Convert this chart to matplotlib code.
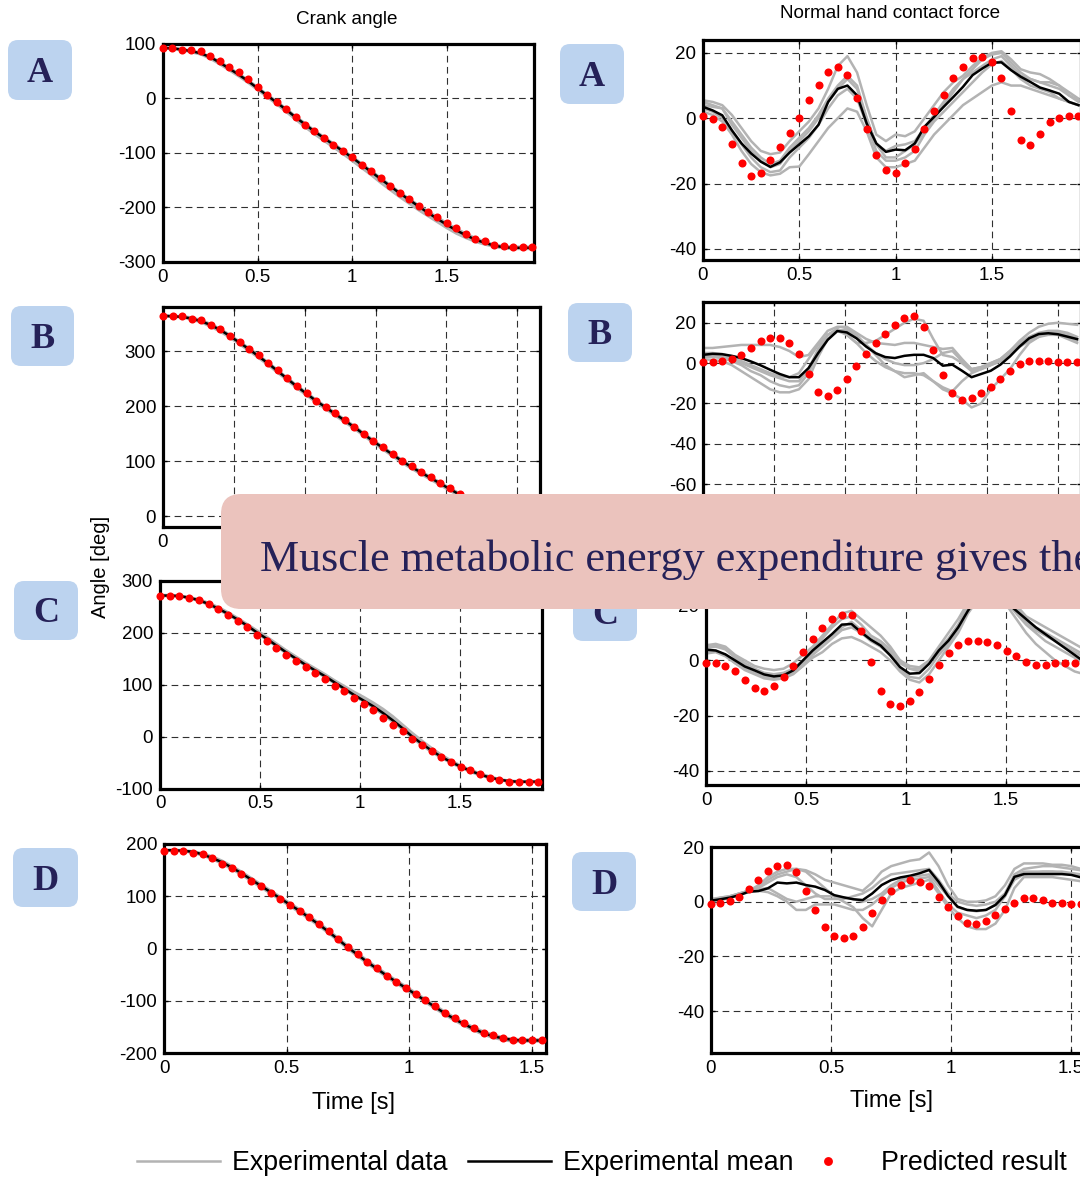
import numpy as np
import matplotlib
matplotlib.use("Agg")
import matplotlib.pyplot as plt
from matplotlib.patches import FancyBboxPatch
from matplotlib.ticker import FuncFormatter

W, H = 1080, 1178
plt.rcParams['font.family'] = ['Liberation Sans', 'DejaVu Sans']

# ---------------------------------------------------------------- sample times [s]
t_a = np.arange(40) * 0.05
t_b = np.arange(40) * 0.0675
t_c = np.arange(40) * 0.0485
t_d = np.arange(40) * 0.0395

# ---------------------------------------------------------------- crank angle [deg]
crank_a_pred = [91, 91, 88, 88, 86, 77, 68, 57, 48, 35, 20, 6, -8, -19, -34, -49, -61, -73, -85, -97,
                -108, -122, -134, -147, -160, -173, -185, -197, -209, -218, -228, -238, -248, -257, -262, -268, -271, -273, -273, -273]
crank_a_mean = [92, 91, 89, 86, 82, 75, 65, 54, 43, 31, 18, 5, -8, -21, -35, -48, -61, -73, -85, -97,
                -109, -122, -135, -148, -161, -174, -186, -198, -210, -221, -232, -242, -251, -259, -265, -270, -273, -274, -274, -274]
crank_a_trials = [
    [93, 92, 90, 87, 83, 76, 67, 56, 45, 33, 20, 7, -6, -19, -33, -46, -59, -71, -83, -95,
     -107, -120, -133, -146, -159, -172, -184, -196, -207, -218, -229, -239, -248, -256, -263, -268, -271, -272, -272, -272],
    [91, 90, 88, 84, 80, 72, 62, 51, 40, 28, 15, 2, -11, -25, -39, -53, -66, -78, -90, -102,
     -115, -128, -141, -155, -168, -181, -193, -205, -216, -227, -238, -248, -256, -263, -268, -272, -275, -276, -276, -276],
    [92, 91, 89, 85, 81, 74, 64, 53, 42, 30, 17, 4, -9, -23, -37, -50, -63, -75, -87, -99,
     -111, -124, -137, -150, -163, -176, -189, -201, -213, -224, -235, -245, -254, -261, -266, -271, -274, -275, -275, -275],
]

crank_b_pred = [364, 364, 364, 360, 357, 349, 340, 329, 317, 305, 293, 279, 266, 251, 237, 225, 210, 199, 187, 175,
                163, 149, 136, 125, 113, 101, 91, 80, 71, 60, 51, 40, 30, 21, 13, 7, 3, 1, 0, 0]
crank_b_mean = [365, 364, 363, 360, 355, 348, 339, 328, 316, 304, 291, 278, 264, 250, 236, 223, 210, 198, 186, 174,
                162, 149, 136, 124, 112, 100, 89, 79, 69, 59, 49, 39, 29, 20, 12, 6, 2, 0, -1, -1]
crank_b_trials = [
    [366, 365, 364, 362, 357, 350, 341, 330, 318, 306, 293, 280, 266, 252, 238, 225, 212, 200, 188, 176,
     164, 151, 138, 126, 114, 102, 91, 81, 71, 61, 51, 41, 31, 22, 14, 8, 4, 2, 1, 1],
    [364, 363, 362, 358, 353, 345, 336, 325, 313, 301, 288, 275, 261, 247, 233, 220, 207, 195, 183, 171,
     159, 146, 133, 121, 109, 97, 86, 76, 66, 56, 46, 36, 27, 18, 10, 4, 0, -2, -3, -3],
    [365, 364, 363, 360, 356, 349, 340, 329, 317, 305, 292, 279, 265, 251, 237, 224, 211, 199, 187, 175,
     163, 150, 137, 125, 113, 101, 90, 80, 70, 60, 50, 40, 30, 21, 13, 7, 3, 1, 0, 0],
]

crank_c_pred = [270.5, 270.5, 270.5, 267, 263, 255, 246, 234, 222, 211, 196, 183, 170, 157, 145, 134, 122, 111, 98, 87,
                74, 62, 51, 36, 22, 10, -5, -17, -28, -40, -49, -58, -64, -72, -79, -84, -87, -87, -87, -87]
crank_c_mean = [271, 271, 270, 267, 262, 255, 246, 236, 225, 213, 200, 188, 175, 162, 150, 138, 127, 116, 104, 92,
                80, 69, 58, 45, 31, 16, 0, -14, -27, -39, -49, -58, -66, -73, -79, -83, -86, -87, -87, -87]
crank_c_trials = [
    [272, 272, 271, 268, 264, 257, 249, 239, 228, 216, 204, 192, 179, 166, 154, 142, 131, 120, 108, 97,
     86, 76, 65, 53, 39, 23, 7, -8, -22, -35, -46, -56, -64, -71, -77, -82, -85, -86, -86, -86],
    [270, 270, 269, 266, 261, 253, 244, 234, 223, 211, 198, 186, 173, 160, 148, 136, 125, 114, 102, 90,
     78, 67, 55, 42, 28, 13, -3, -17, -30, -41, -51, -60, -68, -75, -80, -84, -87, -88, -88, -88],
    [271, 271, 270, 267, 263, 256, 247, 237, 226, 214, 202, 190, 177, 164, 152, 140, 129, 118, 106, 95,
     83, 72, 61, 49, 35, 20, 4, -11, -25, -37, -48, -57, -65, -72, -78, -83, -86, -87, -87, -87],
]

crank_d_pred = [186.6, 187, 187, 183, 180, 174, 162, 154, 142, 130, 119, 107, 95, 84, 71, 60, 46, 34, 18, 3,
                -10, -25, -38, -52, -64, -76, -88, -99, -111, -123, -133, -143, -152, -161, -166, -172, -175, -175, -175, -175]
crank_d_mean = [188, 188, 187, 185, 180, 173, 165, 155, 144, 132, 120, 108, 96, 84, 72, 59, 46, 32, 17, 2,
                -12, -26, -39, -52, -64, -76, -88, -100, -112, -124, -135, -145, -154, -162, -168, -172, -175, -176, -176, -176]
crank_d_trials = [
    [189, 189, 188, 186, 182, 176, 168, 158, 147, 135, 123, 111, 99, 87, 75, 62, 49, 35, 20, 5,
     -9, -23, -36, -49, -61, -73, -85, -97, -109, -121, -132, -142, -151, -159, -165, -170, -173, -174, -174, -174],
    [187, 187, 186, 183, 178, 171, 162, 152, 141, 129, 117, 105, 93, 81, 69, 56, 43, 29, 14, -1,
     -15, -29, -42, -55, -67, -79, -91, -103, -115, -127, -138, -148, -157, -165, -171, -175, -178, -178, -178, -178],
    [188, 188, 187, 185, 181, 174, 166, 156, 145, 133, 121, 109, 97, 85, 73, 60, 47, 33, 18, 3,
     -11, -25, -38, -51, -63, -75, -87, -99, -111, -123, -134, -144, -153, -161, -167, -171, -174, -175, -175, -175],
]

# ---------------------------------------------------------------- normal hand contact force
force_a_pred = [0.7, -0.3, -2.8, -7.8, -13.8, -17.8, -16.9, -12.8, -8.9, -4.4, 0.1, 5.7, 10.2, 14.1, 15.7, 13.1, 6.1, -3.3, -11.4, -15.9,
                -16.9, -13.8, -9.3, -3.4, 2.2, 7.1, 12.2, 15.7, 18.4, 18.8, 17.3, 12.2, 2.2, -6.8, -8.3, -4.8, -1.3, 0.2, 0.7, 0.7]
force_a_mean = [3.5, 2.4, 0.9, -3.7, -7.7, -10.8, -13.3, -14.9, -13.5, -10.5, -8, -5.5, -2, 5, 9, 10, 7, -1.6, -7.7, -10.3,
                -9.6, -9.8, -7.7, -2.6, 0.4, 3.5, 6.5, 9.6, 13.2, 15.2, 17.0, 17.1, 14.7, 12.7, 11.1, 9.4, 8.5, 7.5, 5.0, 4.0]
force_a_trials = [
    [5.5, 5, 4, 1, -3, -7, -10, -11, -10.5, -7, -4, -1, 3, 9, 16, 19, 14, 4, -5, -7,
     -5, -5.5, -4, 0, 4, 8, 11, 13, 16, 18.5, 20, 20.5, 18, 15, 14, 13.5, 12, 10, 7, 5.5],
    [4, 3.5, 3, -1, -5, -9, -12, -14, -13, -9, -6, -3, 1, 6, 10, 13, 10, 0, -8, -10,
     -8.5, -8, -7, -3, 1, 5, 9, 12, 14, 16, 18, 19, 16, 13, 12, 11, 10, 9, 7, 5],
    [3, 2, 0, -4, -8, -12, -15, -16.5, -16, -12, -9, -6, -2, 3, 7, 9, 6, -2, -10, -13,
     -13, -12, -10, -5, -1, 2, 5, 8, 11, 14, 16.5, 17.5, 15, 12, 10, 9, 8, 6, 5, 4],
    [2, 1, -1, -5, -10, -14, -16.5, -17.5, -17, -15, -14.8, -11, -7, -3, 0, 3, 2, -4, -12, -15,
     -15, -14, -13, -9, -5, -2, 1, 4, 6, 8, 10, 11, 10, 10, 9, 8, 7, 6, 5, 4],
    [5, 4, 3, -2, -6, -10, -13, -15, -14, -10, -7, -4, 0, 5, 9, 12, 9, 0, -8, -12,
     -12, -10, -8, -4, 0, 4, 8, 12, 15, 18, 19.5, 20, 17, 14, 12, 11, 11, 10, 8, 6],
]

force_b_pred = [0.3, 0.3, 1.1, 2, 4.1, 7.4, 10.8, 12.3, 12.3, 9.8, 4.3, -5.2, -14.1, -16.4, -13.4, -7.9, -1.3, 4.3, 9.8, 14.4,
                18.7, 22.6, 23.4, 17.9, 6.7, -6.1, -14.9, -18.2, -17.4, -14.9, -11.8, -7.7, -3.8, -0.5, 1.1, 1.1, 1.1, 0.3, 0.3, 0.3]
force_b_mean = [4.1, 4.6, 4.4, 3.6, 2.5, 0.8, -1.1, -3.3, -5.4, -7, -7, -2.5, 4.9, 11.5, 15.9, 15.2, 12.3, 8.2, 4.9, 3,
                2.5, 3.6, 4.1, 4.1, 2.5, -1.3, -0.8, -3.8, -7, -5.4, -3.8, -0.8, 3.3, 8.2, 12.3, 14.4, 14.8, 14.3, 13.1, 11.9]
force_b_trials = [
    [7.5, 7.5, 8, 8.5, 9, 9, 9, 9, 8, 6, 3, 4, 10, 16, 18, 18, 15, 12, 10, 9.5,
     9, 10, 10, 9, 8, 7, 7.5, 2, -3, -2, 0, 2, 6, 11, 15, 18, 19.5, 20, 19.5, 19],
    [2, 1.5, 1, -1, -4, -7, -10, -13, -14.5, -14.5, -13, -8, 3, 12, 16, 17, 14, 9, 4, -1,
     -4, -7, -6, -5, -9, -13, -15, -18, -22, -20, -13, -8, -3, 4, 10, 13, 15, 15, 13, 11],
    [3, 3, 2.5, 1, -1, -4, -6, -9, -11, -12, -11, -5, 6, 14, 17, 14, 10, 10, 11, 14,
     17, 20, 22, 21, 12, 4, 3, 0, -4, -3, -1, 1, 5, 9, 12, 14, 15, 15, 14, 12],
    [4, 4, 3.5, 2, 0, -2, -4, -6, -7.5, -9, -9, -3, 7, 14, 16.5, 16, 13, 9, 5, 2,
     0, -1, -1, 0, 2, 5, 6, 1, -3, -2, 0, 2, 6, 10, 13, 15, 16, 16, 15, 13],
    [5, 5, 4.5, 3, 1, -1, -3, -5, -6.5, -7, -5, 2, 9, 14, 16, 14, 10, 5, 1, -2,
     -4, -5, -5, -6, -9, -12, -14, -9, -5, -3, -1, 1, 4, 8, 11, 13, 14, 14, 12, 10],
]

force_c_pred = [-1, -1, -2.2, -3.7, -7, -9.9, -11, -9.3, -5.9, -2, 2.9, 7.8, 11.6, 14.9, 16.6, 16.6, 10.5, -0.5, -11, -15.9,
                -16.5, -14.9, -11.6, -6.6, -1.6, 2.8, 5.5, 7.2, 7.2, 6.6, 5.5, 3.4, 1.7, -0.4, -1.6, -1.6, -1, -1, -1, -1]
force_c_mean = [3.9, 3.6, 2.2, 0, -2.2, -3.6, -5.1, -5.8, -5.4, -3.6, 0, 3.6, 6.6, 9.6, 13, 13.2, 10.2, 7.5, 5.4, 1.8,
                -2.4, -4.8, -4.6, -1.2, 3.6, 7.2, 12, 18, 23, 25, 24, 21, 18, 15, 12, 9.5, 7, 4.5, 2, -0.5]
force_c_trials = [
    [5.5, 6, 5, 2, 0, -2, -3, -3.5, -3, -1, 2, 5, 9, 13, 17, 18, 15, 12, 9, 5,
     0, -2, -2.5, 0, 5, 10, 15, 21, 26, 28, 27, 24, 20, 16, 14, 12, 10, 8, 6, 4],
    [4.5, 5, 4, 1, -1.5, -3, -5, -6, -5.5, -4, -1, 3, 6, 9, 12, 14, 11, 8, 6, 3,
     -1, -3, -3, -1, 3, 7, 12, 19, 24, 26, 25, 22, 18, 14, 11, 9, 7, 5, 3, 1],
    [3, 3.5, 2, -1, -3, -4.5, -6, -6.5, -6, -4.5, -2, 1, 3, 6, 8, 8.5, 7, 5, 3, 0,
     -4, -7, -8, -5, 0, 5, 10, 17, 22, 24, 23, 20, 15, 10, 6, 3, 0, -2, -4, -5],
    [2.5, 3, 1.5, -1, -3.5, -5, -6.5, -7, -6.5, -5, -2, 2, 5, 8, 11, 12, 10, 7, 5, 2,
     -3, -6, -6.5, -3, 2, 6, 11, 18, 23, 25, 24, 21, 17, 13, 10, 7, 5, 3, 1, -1],
    [5, 5.5, 4.5, 1.5, -1, -3, -4.5, -5, -4.5, -3, 0, 4, 8, 12, 15, 16, 13, 9, 7, 4,
     0, -3, -4, -1, 4, 8, 13, 20, 25, 27, 26, 23, 19, 15, 12, 10, 8, 6, 4, 2],
]

force_d_pred = [-1, -0.4, 0.2, 1.8, 4.6, 7.9, 11.2, 12.9, 13.5, 10.7, 4, -3.2, -9.3, -12.6, -13.2, -12.6, -9.3, -4.3, 0.7, 4,
                6.2, 7.9, 7.3, 5.7, 1.8, -2.1, -5.4, -7.6, -8.2, -7, -4.8, -2.6, -0.4, 1.3, 1.2, 0.7, -0.4, -0.4, -0.9, -1]
force_d_mean = [0.4, 0.9, 1.5, 2.4, 3.7, 3.9, 4.9, 7, 6.7, 7, 6.1, 5.5, 4.3, 2.4, 1.6, 0.9, 0.6, 3, 6.1, 7.9,
                8.9, 9.5, 10.4, 11.6, 7.3, 2.1, -1.8, -3, -3.3, -3, -1.2, 2.4, 9.1, 10.1, 10.1, 10.1, 10.1, 10.1, 9.8, 8.9]
force_d_trials = [
    [0.5, 1.5, 2, 3, 4, 6, 9, 11, 12, 12, 11.5, 10, 8, 7, 6, 5, 4, 7, 11, 13,
     14, 15, 15.5, 18, 13, 6, 1, 0, 0, 0.5, 2, 6, 12, 14, 14, 14, 13.5, 13.5, 13, 12],
    [0, 1, 1.5, 2.5, 3.5, 5, 8, 10, 11, 12, 11, 8, 5, 2, 0, -2, -6, -9, -3, 3,
     5, 6, 7, 8, 3, -2, -6, -9, -10, -10, -8, -3, 5, 9, 9, 9, 9, 8.5, 8, 7.5],
    [1, 1.5, 2, 3, 3.5, 4, 3.5, 2, 0, -3, -3, -1, -1, -1, -2, -3, -3, -1, 2, 5,
     7, 8, 8.5, 9, 4, -1, -4, -5, -6, -5, -3, 2, 8, 10, 10.5, 11, 11, 11, 10.5, 10],
    [0, 0.5, 1.5, 3, 4, 5, 7, 9, 10, 9, 6, 3, 1, 1, 1, 2, 3, 5, 8, 10,
     10.5, 11, 11.5, 12, 8, 3, 0, -1, -1.5, -1, 0, 3, 10, 12, 12.5, 13, 13, 12.5, 12, 11.5],
    [0.5, 1, 2, 3, 4, 4.5, 5, 3, 1, 0, 1, 2, 2, 2, 1.5, 1, 0, 1, 3, 6,
     8, 9, 9.5, 10, 6, 2, -2, -3, -3.5, -3, -1, 2, 9, 11, 11, 11, 11, 10.5, 10, 9.5],
]

panel_letters = ['A', 'B', 'C', 'D']
legend_labels = ['Experimental data', 'Experimental mean', 'Predicted result']
banner_text = 'Muscle metabolic energy expenditure gives the'

# ---------------------------------------------------------------- figure
fig = plt.figure(figsize=(W / 100, H / 100), dpi=100)
GRAY = '#b3b3b3'
NAVY = '#252158'
tick_fmt = FuncFormatter(lambda v, p: f'{v:g}')


def pixel_box(left, top, right, bottom):
    return [left / W, 1 - bottom / H, (right - left) / W, (bottom - top) / H]


def panel(rect, t, trials, mean, pred, xlim, ylim, xticks, yticks):
    ax = fig.add_axes(pixel_box(*rect))
    handles = []
    for tr in trials:
        h, = ax.plot(t, tr, color=GRAY, lw=1.8, zorder=2)
        handles.append(h)
    hm, = ax.plot(t, mean, color='black', lw=1.8, zorder=3)
    hp, = ax.plot(t, pred, 'o', color='red', ms=5.8, mec='none', zorder=4, clip_on=False)
    ax.set_xlim(*xlim)
    ax.set_ylim(*ylim)
    ax.set_xticks(xticks)
    ax.set_yticks(yticks)
    ax.xaxis.set_major_formatter(tick_fmt)
    ax.yaxis.set_major_formatter(tick_fmt)
    ax.grid(True, color='#303030', lw=0.8, linestyle=(0, (6, 4)))
    ax.set_axisbelow(True)
    for s in ax.spines.values():
        s.set_linewidth(2.3)
    ax.tick_params(direction='in', length=3, width=1, top=True, right=True,
                   labelsize=13.5, pad=5)
    return ax, handles[0], hm, hp


x05 = [0, 0.5, 1, 1.5]
x25 = [0, 0.5, 1, 1.5, 2, 2.5]

# crank angle column
ax_a, h_gray, h_mean, h_pred = panel((163, 43.5, 534, 262), t_a, crank_a_trials, crank_a_mean, crank_a_pred,
                                     (0, 1.96), (-300, 100), x05, [-300, -200, -100, 0, 100])
panel((163, 307, 540, 527), t_b, crank_b_trials, crank_b_mean, crank_b_pred,
      (0, 2.66), (-20, 381), x25, [0, 100, 200, 300])
panel((160, 580.5, 542, 788.5), t_c, crank_c_trials, crank_c_mean, crank_c_pred,
      (0, 1.91), (-100, 300), x05, [-100, 0, 100, 200, 300])
panel((164, 844, 546, 1053), t_d, crank_d_trials, crank_d_mean, crank_d_pred,
      (0, 1.558), (-200, 200), x05, [-200, -100, 0, 100, 200])

# normal hand contact force column
panel((703, 39.5, 1081, 260), t_a, force_a_trials, force_a_mean, force_a_pred,
      (0, 1.963), (-43.4, 24.1), x05, [-40, -20, 0, 20])
panel((703, 302, 1081, 527), t_b, force_b_trials, force_b_mean, force_b_pred,
      (0, 2.66), (-81.3, 30.3), x25, [-60, -40, -20, 0, 20])
panel((706, 580.5, 1086, 785), t_c, force_c_trials, force_c_mean, force_c_pred,
      (0, 1.9), (-45.2, 29), x05, [-40, -20, 0, 20])
panel((711, 847, 1085, 1053), t_d, force_d_trials, force_d_mean, force_d_pred,
      (0, 1.558), (-55.3, 20), x05, [-40, -20, 0, 20])

# ---------------------------------------------------------------- overlay in pixel units
ov = fig.add_axes([0, 0, 1, 1], zorder=5)
ov.set_xlim(0, W)
ov.set_ylim(H, 0)
ov.axis('off')

ov.text(347, 19, 'Crank angle', ha='center', va='center', fontsize=13.6)
ov.text(890, 14, 'Normal hand contact force', ha='center', va='center', fontsize=13.6)
ov.text(100, 567, 'Angle [deg]', ha='center', va='center', rotation=90, fontsize=14.5)
ov.text(353, 1103, 'Time [s]', ha='center', va='center', fontsize=17)
ov.text(892, 1101, 'Time [s]', ha='center', va='center', fontsize=17)

badge_boxes = [(8, 40, 72, 100), (560, 44, 624, 104),
               (11, 306, 74, 366), (568, 303, 632, 362),
               (14, 581, 78, 640), (573, 582, 637, 641),
               (13, 848, 78, 907), (572, 852, 636, 911)]
for i, (l, t, r, b) in enumerate(badge_boxes):
    ov.add_patch(FancyBboxPatch((l, t), r - l, b - t,
                                boxstyle='round,pad=0,rounding_size=10',
                                fc='#bcd3ef', ec='none', zorder=2))
    ov.text((l + r) / 2, (t + b) / 2 + 12, panel_letters[i // 2], ha='center', va='baseline',
            fontsize=26, fontweight='bold', family='Liberation Serif', color=NAVY, zorder=3)

ov.add_patch(FancyBboxPatch((221, 494), 1000, 115, boxstyle='round,pad=0,rounding_size=20',
                            fc='#ebc3bd', ec='none', zorder=6))
ov.text(260, 571, banner_text, ha='left', va='baseline', fontsize=31.8,
        family='Liberation Serif', color=NAVY, zorder=7)

# ---------------------------------------------------------------- legend
legend_y = 1 - 1163 / H
for handle, label, x0 in zip([h_gray, h_mean, h_pred], legend_labels, [137, 468, 786]):
    fig.legend([handle], [label], loc='center left', bbox_to_anchor=(x0 / W, legend_y),
               frameon=False, fontsize=19.3, handlelength=3.1, handletextpad=0.45,
               borderpad=0, borderaxespad=0, numpoints=1, markerscale=1.1)

fig.savefig('out.png', dpi=100)
